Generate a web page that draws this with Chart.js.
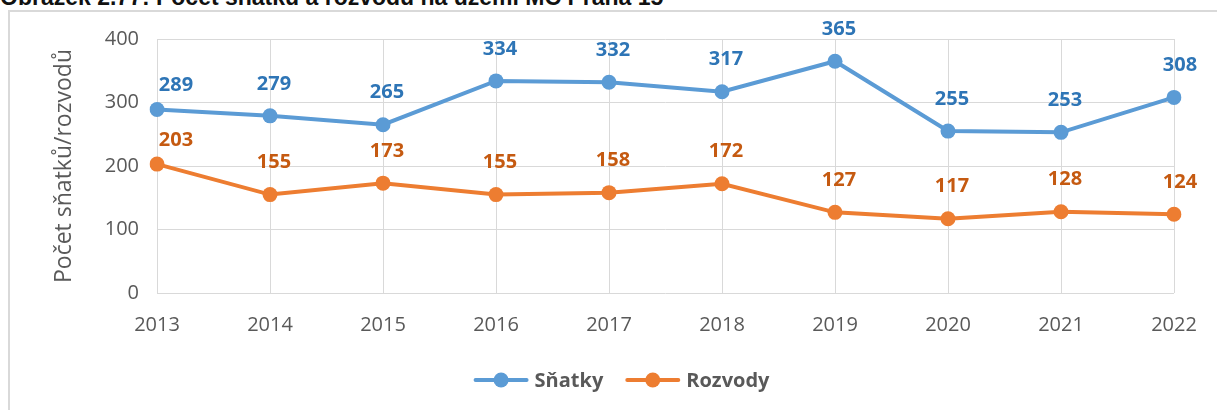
<!DOCTYPE html>
<html>
<head>
<meta charset="utf-8">
<script src="https://cdn.jsdelivr.net/npm/chart.js@4/dist/chart.umd.min.js"></script>
<style>
  html, body { margin: 0; padding: 0; background: #fff; overflow: hidden; }
  #wrap { position: relative; width: 1217px; height: 410px; }
  #caption {
    position: absolute; left: 0; top: -16px; white-space: nowrap;
    font: bold 23px "Liberation Sans", Arial, sans-serif; line-height: 26px; color: #111;
  }
  #frame {
    position: absolute; left: 8px; top: 10px; width: 1300px; height: 500px;
    border-left: 2px solid #d9d9d9; border-top: 2px solid #d9d9d9; pointer-events: none;
  }
  canvas { position: absolute; left: 0; top: 0; }
</style>
</head>
<body>
<div id="wrap">
  <div id="caption">Obrázek 2.77: Počet sňatků a rozvodů na území MČ Praha 15</div>
  <canvas id="chart" width="1217" height="410"></canvas>
  <div id="frame"></div>
</div>
<script>
const years = ['2013', '2014', '2015', '2016', '2017', '2018', '2019', '2020', '2021', '2022'];
const snatky = [289, 279, 265, 334, 332, 317, 365, 255, 253, 308];
const rozvody = [203, 155, 173, 155, 158, 172, 127, 117, 128, 124];
const yTicks = [0, 100, 200, 300, 400];

const FONT = '"Open Sans", "Noto Sans", sans-serif';
const GREY = '#595959';

// value labels above each point, Excel style
const valueLabels = {
    id: 'valueLabels',
    afterDatasetsDraw(chart) {
        const ctx = chart.ctx;
        ctx.save();
        ctx.font = 'bold 20px ' + FONT;
        ctx.textAlign = 'center';
        ctx.textBaseline = 'middle';
        chart.data.datasets.forEach((ds, i) => {
            const meta = chart.getDatasetMeta(i);
            ctx.fillStyle = ds.labelColor;
            meta.data.forEach((pt, j) => {
                let dx = 4, dy = 32;
                if (j === 0) { dx = 19; dy = 24; }
                if (j === meta.data.length - 1) dx = 6;
                ctx.fillText(ds.data[j], pt.x + dx, pt.y - dy);
            });
        });
        ctx.restore();
    }
};

// legend: line with a dot in the middle, then bold label
const lineLegend = {
    id: 'lineLegend',
    afterDraw(chart) {
        const ctx = chart.ctx;
        const sets = chart.data.datasets;
        const lineLen = 55, gap = 6, itemGap = 22;
        ctx.save();
        ctx.font = 'bold 20px ' + FONT;
        const widths = sets.map(ds => lineLen + gap + ctx.measureText(ds.label).width);
        const total = widths.reduce((a, b) => a + b, 0) + itemGap * (sets.length - 1);
        let x = chart.width / 2 + 13 - total / 2;
        const y = 380;
        sets.forEach((ds, i) => {
            ctx.strokeStyle = ds.borderColor;
            ctx.lineWidth = 4;
            ctx.lineCap = 'round';
            ctx.beginPath();
            ctx.moveTo(x + 2, y);
            ctx.lineTo(x + lineLen - 2, y);
            ctx.stroke();
            ctx.fillStyle = ds.borderColor;
            ctx.beginPath();
            ctx.arc(x + lineLen / 2, y, 7.5, 0, Math.PI * 2);
            ctx.fill();
            ctx.fillStyle = GREY;
            ctx.textBaseline = 'middle';
            ctx.textAlign = 'left';
            ctx.fillText(ds.label, x + lineLen + gap, y + 1);
            x += widths[i] + itemGap;
        });
        ctx.restore();
    }
};

new Chart(document.getElementById('chart').getContext('2d'), {
    type: 'line',
    data: {
        labels: years,
        datasets: [{
            label: 'Sňatky',
            data: snatky,
            borderColor: '#5B9BD5',
            backgroundColor: '#5B9BD5',
            labelColor: '#2E75B6',
            borderWidth: 4,
            pointRadius: 7.5,
            pointBorderWidth: 0,
            tension: 0
        }, {
            label: 'Rozvody',
            data: rozvody,
            borderColor: '#ED7D31',
            backgroundColor: '#ED7D31',
            labelColor: '#C55A11',
            borderWidth: 4,
            pointRadius: 7.5,
            pointBorderWidth: 0,
            tension: 0
        }]
    },
    options: {
        responsive: false,
        animation: false,
        layout: { padding: { left: 51, right: 43, top: 39, bottom: 0 } },
        plugins: {
            legend: { display: false },
            tooltip: { enabled: false }
        },
        scales: {
            x: {
                offset: false,
                grid: { color: '#d9d9d9', drawTicks: false },
                border: { display: false },
                ticks: { color: GREY, font: { family: FONT, size: 20 }, padding: 20, maxRotation: 0 },
                afterFit(s) { s.height = 117; }
            },
            y: {
                min: yTicks[0],
                max: yTicks[yTicks.length - 1],
                afterBuildTicks(s) { s.ticks = yTicks.map(v => ({ value: v })); },
                grid: { color: '#d9d9d9', drawTicks: false },
                border: { display: false },
                ticks: { color: GREY, font: { family: FONT, size: 20 }, padding: 18 },
                title: {
                    display: true,
                    text: 'Počet sňatků/rozvodů',
                    color: GREY,
                    font: { family: FONT, size: 23 },
                    padding: 0
                },
                afterFit(s) { s.width = 106; }
            }
        }
    },
    plugins: [valueLabels, lineLegend]
});
</script>
</body>
</html>
